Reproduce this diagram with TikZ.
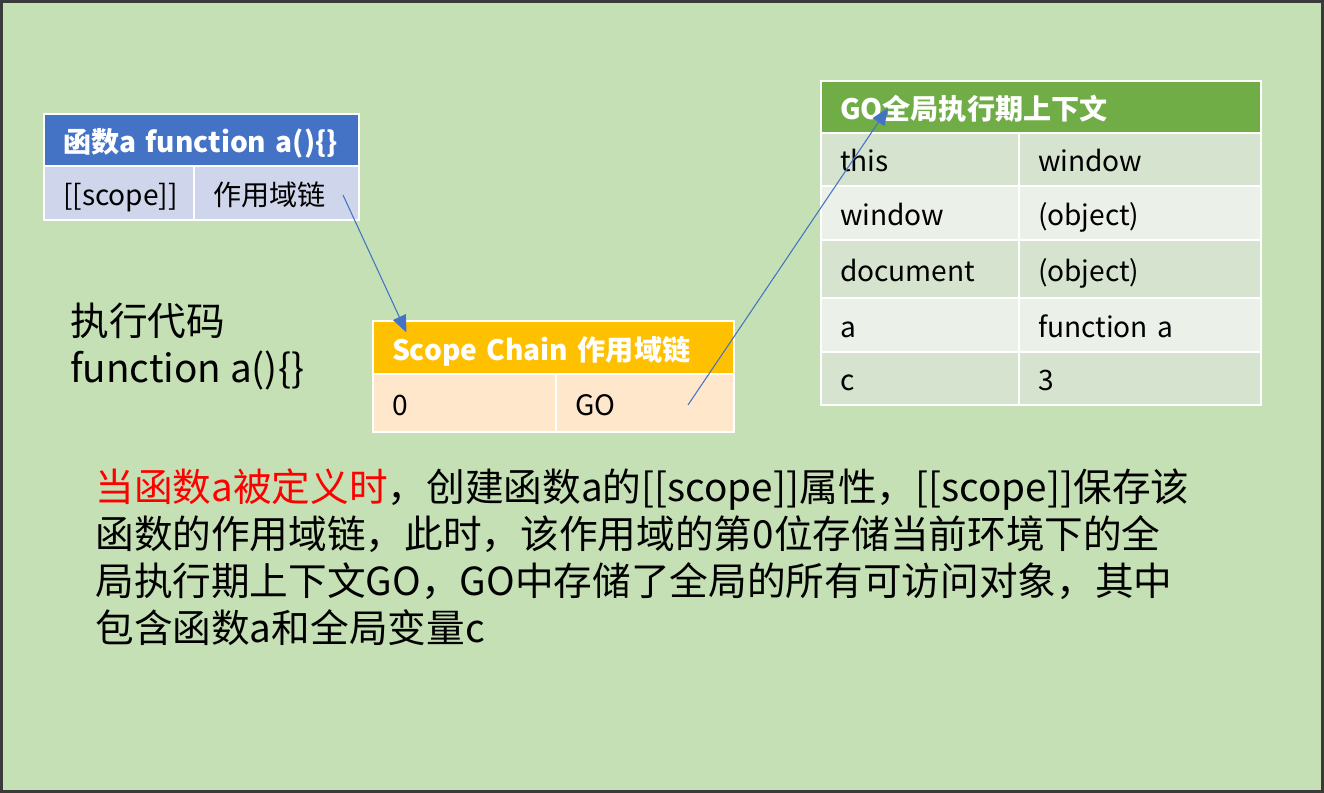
\documentclass[tikz,border=0pt]{standalone}
\usepackage{fontspec}
\setmainfont{Noto Sans CJK SC}
\usepackage{xcolor}
\usetikzlibrary{positioning}
\usetikzlibrary{arrows.meta}

\definecolor{bggreen}{HTML}{C5E0B4}
\definecolor{frame}{HTML}{3A3A3A}
\definecolor{fnblue}{HTML}{4472C4}
\definecolor{fnrow}{HTML}{CFD5EA}
\definecolor{scgold}{HTML}{FFC000}
\definecolor{scrow}{HTML}{FFE7CC}
\definecolor{gogreen}{HTML}{70AD47}
\definecolor{godark}{HTML}{D6E3CE}
\definecolor{golight}{HTML}{EBF1E8}

\tikzset{
  cell/.style={rectangle, draw=white, line width=1.5pt, outer sep=0pt,
    inner xsep=0.38cm, inner ysep=0pt, anchor=north west, align=left,
    text height=14.2pt, text depth=0.5pt,
    font=\fontsize{16}{19}\selectfont},
  headcell/.style={cell, text=white, text height=15pt, text depth=0.5pt,
    font=\fontsize{16}{19}\selectfont\bfseries},
  link/.style={fnblue, line width=0.6pt, -{Triangle[length=0.34cm, width=0.28cm]}}
}

\begin{document}
\begin{tikzpicture}
\useasboundingbox (0,0) rectangle (26.48,-15.86);
\fill[bggreen] (0,0) rectangle (26.48,-15.86);
\draw[frame, line width=0.06cm] (0.03,-0.03) rectangle (26.45,-15.83);

% function a
\node[headcell, fill=fnblue, text width=5.54cm, minimum height=1.04cm] (fa-head) at (0.88,-2.28) {函数a function a()\{\}};
\node[cell, fill=fnrow, text width=2.24cm, minimum height=1.08cm] (fa-key) at (fa-head.south west) {[[scope]]};
\node[cell, fill=fnrow, text width=2.54cm, minimum height=1.08cm] (fa-val) at (fa-key.north east) {作用域链};

% scope chain
\node[headcell, fill=scgold, text width=6.46cm, minimum height=1.06cm] (sc-head) at (7.46,-6.42) {Scope Chain 作用域链};
\node[cell, fill=scrow, text width=2.90cm, minimum height=1.16cm] (sc-key) at (sc-head.south west) {0};
\node[cell, fill=scrow, text width=2.80cm, minimum height=1.16cm] (sc-val) at (sc-key.north east) {GO};

% GO
\node[headcell, fill=gogreen, text width=8.04cm, minimum height=1.04cm] (go-head) at (16.42,-1.62) {GO全局执行期上下文};
\node[cell, fill=godark, text width=3.20cm, minimum height=1.06cm] (go-k1) at (go-head.south west) {this};
\node[cell, fill=godark, text width=4.08cm, minimum height=1.06cm] (go-v1) at (go-k1.north east) {window};
\node[cell, fill=golight, text width=3.20cm, minimum height=1.08cm] (go-k2) at (go-k1.south west) {window};
\node[cell, fill=golight, text width=4.08cm, minimum height=1.08cm] (go-v2) at (go-k2.north east) {(object)};
\node[cell, fill=godark, text width=3.20cm, minimum height=1.16cm] (go-k3) at (go-k2.south west) {document};
\node[cell, fill=godark, text width=4.08cm, minimum height=1.16cm] (go-v3) at (go-k3.north east) {(object)};
\node[cell, fill=golight, text width=3.20cm, minimum height=1.08cm] (go-k4) at (go-k3.south west) {a};
\node[cell, fill=golight, text width=4.08cm, minimum height=1.08cm] (go-v4) at (go-k4.north east) {function a};
\node[cell, fill=godark, text width=3.20cm, minimum height=1.06cm] (go-k5) at (go-k4.south west) {c};
\node[cell, fill=godark, text width=4.08cm, minimum height=1.06cm] (go-v5) at (go-k5.north east) {3};

% texts
\node[anchor=north west, inner sep=0pt, align=left, font=\fontsize{22}{26.7}\selectfont] (code) at (1.40,-6.05) {执行代码\\function a()\{\}};
\node[anchor=north west, inner sep=0pt, align=left, font=\fontsize{22}{26.7}\selectfont] (note) at (1.90,-9.37)
  {{\color{red}当函数a被定义时}，创建函数a的[[scope]]属性，[[scope]]保存该\\
   函数的作用域链，此时，该作用域的第0位存储当前环境下的全\\
   局执行期上下文GO，GO中存储了全局的所有可访问对象，其中\\
   包含函数a和全局变量c};

% links
\coordinate (fa-from) at (6.86,-3.90);
\coordinate (sc-to) at (8.13,-6.65);
\coordinate (sc-from) at (13.76,-8.10);
\coordinate (go-to) at (17.76,-2.16);
\draw[link] (fa-from) -- (sc-to);
\draw[link] (sc-from) -- (go-to);
\end{tikzpicture}
\end{document}
